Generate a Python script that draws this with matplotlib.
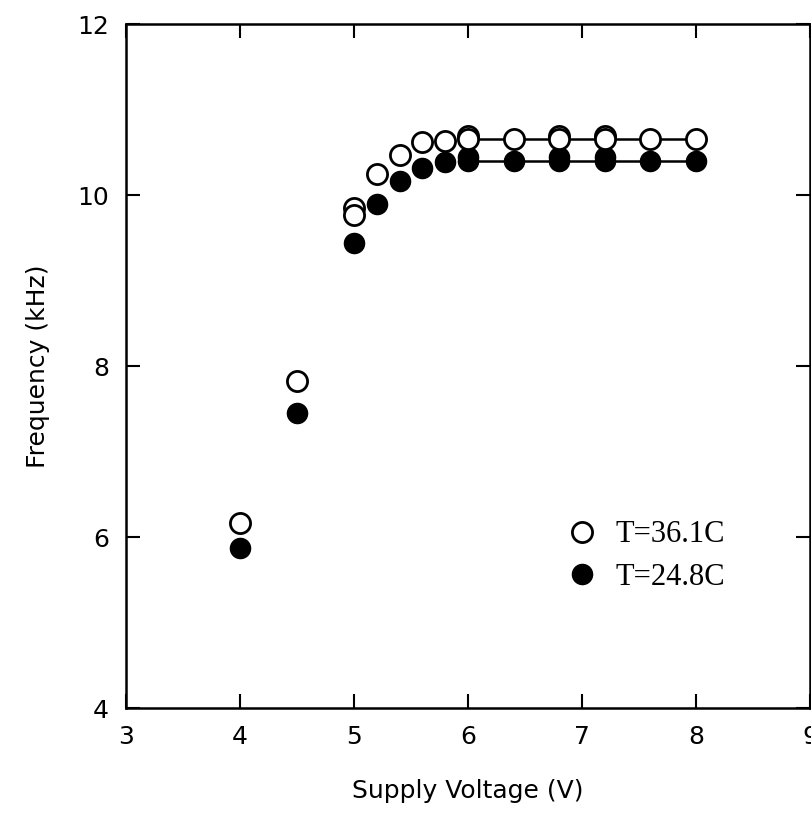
import numpy as np
import matplotlib
matplotlib.use("Agg")
import matplotlib.pyplot as plt

# supply voltage sweep (V)
volts = [4.0, 4.5, 5.0, 5.2, 5.4, 5.6, 5.8, 6.0, 6.4, 6.8, 7.2, 7.6, 8.0]
# frequency (kHz) at T=36.1C and T=24.8C
f_hot = [6.17, 7.83, 9.77, 10.25, 10.47, 10.62, 10.63, 10.65, 10.65, 10.65, 10.65, 10.65, 10.65]
f_cold = [5.87, 7.45, 9.44, 9.90, 10.17, 10.32, 10.39, 10.40, 10.40, 10.40, 10.40, 10.40, 10.40]

# repeated readings
volts_rep = [5.0, 6.0, 6.8, 7.2]
f_hot_rep = [9.85, 10.69, 10.69, 10.69]
f_cold_rep = [9.44, 10.44, 10.45, 10.45]

labels = ["T=36.1C", "T=24.8C"]

fig = plt.figure(figsize=(8.12, 8.14), dpi=100)
ax = fig.add_axes([0.155, 0.130, 0.8425, 0.8405])

v = np.array(volts)
flat = v >= 6.0

# connecting lines on the plateau
ax.plot(v[flat], np.array(f_hot)[flat], color="black", lw=1.8, zorder=2)
ax.plot(v[flat], np.array(f_cold)[flat], color="black", lw=1.8, zorder=2)

ms = 14.5
ax.plot(volts_rep[1:], f_cold_rep[1:], "o", ms=ms, mfc="black", mec="black", zorder=3)
ax.plot(volts, f_cold, "o", ms=ms, mfc="black", mec="black", zorder=3, label=labels[1])
ax.plot(volts_rep, f_hot_rep, "o", ms=ms, mfc="white", mec="black", mew=2, zorder=4)
ax.plot(volts, f_hot, "o", ms=ms, mfc="white", mec="black", mew=2, zorder=4, label=labels[0])

ax.set_xlim(3, 9)
ax.set_ylim(4, 12)
ax.set_xticks([3, 4, 5, 6, 7, 8, 9])
ax.set_yticks([4, 6, 8, 10, 12])
ax.tick_params(direction="in", length=10, width=1.5, labelsize=18, pad=12,
               top=True, right=True)

for s in ax.spines.values():
    s.set_linewidth(1.8)

ax.set_xlabel("Supply Voltage (V)", fontsize=18, labelpad=22)
ax.set_ylabel("Frequency (kHz)", fontsize=18, labelpad=20)

h, l = ax.get_legend_handles_labels()
leg = ax.legend(h[::-1], l[::-1], loc="center left", bbox_to_anchor=(0.60, 0.222),
                frameon=False, handlelength=1.2, handletextpad=0.5, labelspacing=0.45,
                prop={"family": "Liberation Serif", "size": 22})

fig.savefig("out.png", dpi=100)
